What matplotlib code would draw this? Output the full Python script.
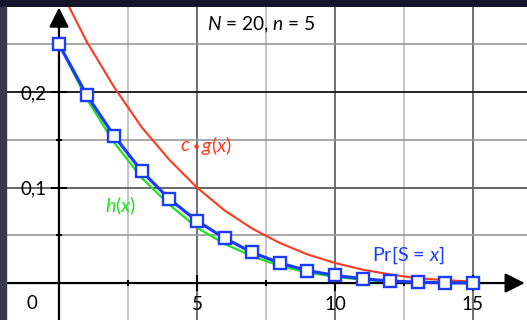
import matplotlib
matplotlib.use("Agg")
import matplotlib.pyplot as plt
from matplotlib.patches import FancyArrowPatch, Rectangle, ArrowStyle

plt.rcParams['font.family'] = ['Lato', 'DejaVu Sans']
plt.rcParams['mathtext.fontset'] = 'custom'
plt.rcParams['mathtext.rm'] = 'Lato'
plt.rcParams['mathtext.it'] = 'Lato:italic'

# values
x_vals = list(range(16))
pr_s = [0.250, 0.197, 0.154, 0.117, 0.088, 0.065, 0.047, 0.032, 0.021, 0.013,
        0.008, 0.0045, 0.002, 0.0009, 0.0003, 0.0001]
cg = [0.310, 0.253, 0.205, 0.163, 0.129, 0.100, 0.076, 0.057, 0.042, 0.030,
      0.021, 0.014, 0.009, 0.005, 0.003, 0.0015]
h = [0.250, 0.193, 0.147, 0.110, 0.082, 0.058, 0.041, 0.028, 0.018, 0.011,
     0.0065, 0.0035, 0.0017, 0.0007, 0.0002, 0.0]

x_major = [5, 10, 15]
x_minor = [2.5, 7.5, 12.5]
y_major = [0.1, 0.2]
y_minor = [0.05, 0.15, 0.25]
y_labels = ['0,1', '0,2']

RED = '#ff3a1c'
GREEN = '#22e022'
BLUE = '#1a3cff'

fig = plt.figure(figsize=(5.27, 3.2), dpi=100, facecolor='#14142a')
fig.patches.append(Rectangle((0, 0), 6 / 527, 313 / 320, transform=fig.transFigure,
                             color='#3a384c', zorder=0))
ax = fig.add_axes([6 / 527, 0, 521 / 527, 313 / 320])
ax.set_facecolor('white')
ax.set_xlim(-1.92, 16.96)
ax.set_ylim(-0.0387, 0.289)

# grid
for v in x_minor:
    ax.axvline(v, color='#c4c4c4', lw=1.4, zorder=1)
for v in x_major:
    ax.axvline(v, color='#707070', lw=1.4, zorder=1)
for v in y_minor:
    ax.axhline(v, color='#999999', lw=1.2, zorder=1)
ax.axhline(0.1, color='#666666', lw=1.4, zorder=1)
ax.axhline(0.2, color='#222222', lw=1.4, zorder=1)

# axes through the origin
for s in ['top', 'right']:
    ax.spines[s].set_visible(False)
ax.spines['left'].set_position(('data', 0))
ax.spines['bottom'].set_position(('data', 0))
ax.spines['left'].set_visible(False)
ax.spines['bottom'].set_visible(False)

style = ArrowStyle('-|>', head_length=12, head_width=6)
ax.add_patch(FancyArrowPatch((-1.92, 0), (16.88, 0), arrowstyle=style, mutation_scale=1,
                             color='black', lw=1.6, shrinkA=0, shrinkB=0, zorder=3, clip_on=False))
ax.add_patch(FancyArrowPatch((0, -0.0387), (0, 0.2885), arrowstyle=style, mutation_scale=1,
                             color='black', lw=1.6, shrinkA=0, shrinkB=0, zorder=3, clip_on=False))

ax.set_xticks(x_major, labels=[str(v) for v in x_major])
ax.set_xticks(x_minor, minor=True)
ax.set_yticks(y_major, labels=y_labels)
ax.set_yticks(y_minor, minor=True)
ax.tick_params(which='major', direction='inout', length=12, width=1.5, color='black',
               labelsize=13.5, pad=3)
ax.tick_params(which='minor', direction='inout', length=4.5, width=1.5, color='black')
ax.text(-0.98, -0.021, '0', fontsize=13.5, ha='center', va='center')

# curves
ax.plot(x_vals, cg, color=RED, lw=1.5, zorder=4)
ax.plot(x_vals, h, color=GREEN, lw=1.6, zorder=4)
ax.plot(x_vals, pr_s, color=BLUE, lw=2.3, marker='s', markersize=8,
        markerfacecolor='white', markeredgecolor=BLUE, markeredgewidth=1.7, zorder=5,
        clip_on=False)

ax.text(5.36, 0.270, r'$N$ = 20, $n$ = 5', fontsize=13.8, ha='left', va='center')
ax.text(4.38, 0.1435, r'$c$', fontsize=14.2, color=RED, ha='left', va='center', zorder=6)
ax.plot([4.98], [0.1435], 'o', color=RED, markersize=2.2, zorder=6)
ax.text(5.15, 0.1435, r'$g(x)$', fontsize=14.2, color=RED, ha='left', va='center', zorder=6)
ax.text(1.67, 0.0806, r'$h(x)$', fontsize=14.2, color=GREEN, ha='left', va='center')
ax.text(11.34, 0.0290, r'Pr[S = $x$]', fontsize=14.2, color=BLUE, ha='left', va='center')

fig.savefig('out.png', dpi=100, facecolor=fig.get_facecolor())
